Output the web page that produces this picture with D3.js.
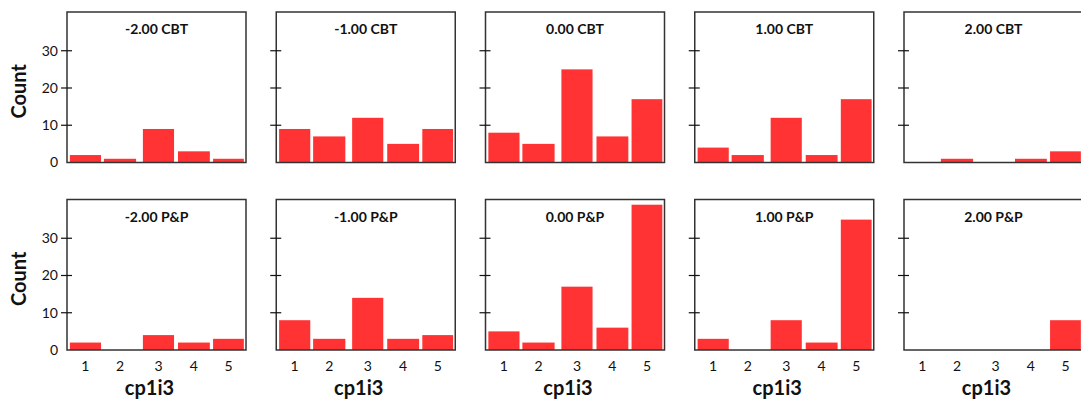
<!DOCTYPE html>
<html>
<head>
<meta charset="utf-8">
<script src="https://cdn.jsdelivr.net/npm/d3@7"></script>
<style>
  body { margin: 0; background: #fff; }
  text { font-family: Lato, "Open Sans", sans-serif; fill: #111; }
</style>
</head>
<body>
<div id="chart"></div>
<script>
// facet levels
var levels = ["-2.00", "-1.00", "0.00", "1.00", "2.00"];
var groups = ["CBT", "P&P"];

// histogram bins of cp1i3
var binLo = [0.58, 1.53, 2.62, 3.60, 4.58];
var binHi = [1.45, 2.43, 3.49, 4.49, 5.44];
var binLabels = ["1", "2", "3", "4", "5"];

// counts per panel, bins 1..5
var countsCBT = [
  [2, 1, 9, 3, 1],
  [9, 7, 12, 5, 9],
  [8, 5, 25, 7, 17],
  [4, 2, 12, 2, 17],
  [0, 1, 0, 1, 3]
];
var countsPP = [
  [2, 0, 4, 2, 3],
  [8, 3, 14, 3, 4],
  [5, 2, 17, 6, 39],
  [3, 0, 8, 2, 35],
  [0, 0, 0, 0, 8]
];
var yTicks = [0, 10, 20, 30];

var W = 1081, H = 405;
var pw = 179, ph = 150.5;
var colX = d3.scaleLinear().domain([0, 4]).range([67, 904]);
var rowY = [12, 199.5];

var svg = d3.select("#chart").append("svg")
    .attr("width", W).attr("height", H);

var x = d3.scaleLinear().domain([0.5, 5.5]).range([0, pw]);
var y = d3.scaleLinear().domain([0, 40.4]).range([ph, 0]);

groups.forEach(function(g, r) {
  var counts = r == 0 ? countsCBT : countsPP;
  levels.forEach(function(lev, c) {
    var p = svg.append("g")
        .attr("transform", "translate(" + colX(c) + "," + rowY[r] + ")");

    var bins = counts[c].map(function(v, i) {
      return {lo: binLo[i], hi: binHi[i], n: v};
    });

    p.selectAll("rect.bar")
        .data(bins.filter(function(d) { return d.n > 0; }))
        .enter()
        .append("rect")
          .attr("class", "bar")
          .attr("x", function(d) { return x(d.lo); })
          .attr("width", function(d) { return x(d.hi) - x(d.lo); })
          .attr("y", function(d) { return y(d.n); })
          .attr("height", function(d) { return y(0) - y(d.n); })
          .attr("fill", "#ff3333");

    // frame
    p.append("rect")
        .attr("width", pw).attr("height", ph)
        .attr("fill", "none")
        .attr("stroke", "#333")
        .attr("stroke-width", 1.5);

    // ticks cross the left edge
    p.selectAll("line.tick")
        .data(yTicks.slice(1))
        .enter()
        .append("line")
          .attr("x1", -6).attr("x2", 5)
          .attr("y1", function(d) { return y(d); })
          .attr("y2", function(d) { return y(d); })
          .attr("stroke", "#111")
          .attr("stroke-width", 1.2);

    if (c == 0) {
      p.selectAll("text.ylab")
          .data(yTicks)
          .enter()
          .append("text")
            .attr("x", -9)
            .attr("y", function(d) { return y(d); })
            .attr("dy", "0.35em")
            .attr("text-anchor", "end")
            .style("font-size", "14px")
            .text(function(d) { return d; });
      p.append("text")
          .attr("transform", "translate(-41," + (ph / 2 + 4) + ") rotate(-90)")
          .attr("text-anchor", "middle")
          .style("font-size", "20px")
          .style("font-weight", "bold")
          .text("Count");
    }

    p.append("text")
        .attr("x", pw / 2)
        .attr("y", r == 0 ? 21.5 : 22)
        .attr("text-anchor", "middle")
        .style("font-size", "14px")
        .style("font-weight", "bold")
        .text(lev + " " + g);

    if (r == 1) {
      p.selectAll("text.xlab")
          .data(bins)
          .enter()
          .append("text")
            .attr("x", function(d) { return x((d.lo + d.hi) / 2); })
            .attr("y", ph + 20.5)
            .attr("text-anchor", "middle")
            .style("font-size", "14px")
            .text(function(d, i) { return binLabels[i]; });
      p.append("text")
          .attr("x", pw / 2 - 7)
          .attr("y", ph + 45)
          .attr("text-anchor", "middle")
          .style("font-size", "20px")
          .style("font-weight", "bold")
          .text("cp1i3");
    }
  });
});
</script>
</body>
</html>
